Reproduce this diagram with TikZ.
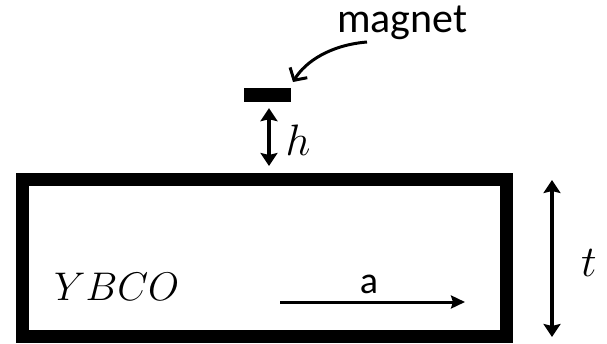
\RequirePackage{fix-cm}
\documentclass[tikz,border=0pt]{standalone}
\usepackage{fontspec}
\newfontfamily\calib{Carlito}
\usetikzlibrary{arrows.meta,calc}
\begin{document}
\begin{tikzpicture}[x=1pt,y=-1pt,
  dimarrow/.style={line width=3.5pt,{Stealth[length=13pt,width=17pt,inset=2pt]}-{Stealth[length=13pt,width=17pt,inset=2pt]}},
  lbl/.style={inner sep=0pt,anchor=center}]
\useasboundingbox (0,0) rectangle (607,343);
% slab
\node[draw,line width=13pt,minimum width=484pt,minimum height=157pt,inner sep=0pt] (slab) at (264.5,258) {};
% magnet
\node[fill=black,minimum width=47pt,minimum height=14pt,inner sep=0pt] (magnet) at (267.5,95) {};
% labels
\node[lbl,font=\calib\fontsize{42}{42}\selectfont,anchor=base west] (mlabel) at (337,32) {magnet};
\node[lbl,font=\fontsize{44}{44}\selectfont] (hlabel) at (298,140) {$h$};
\node[lbl,font=\fontsize{44}{44}\selectfont] (tlabel) at (589,263) {$t$};
\node[lbl,font=\fontsize{40}{40}\selectfont,anchor=base west] (ybco) at (54,300) {$YBCO$};
\node[lbl,font=\calib\fontsize{38}{38}\selectfont] (alabel) at (369,284) {a};
% coordinates
\coordinate (hT) at ($(magnet.south)+(1.5,6)$);
\coordinate (hB) at ($(magnet.south |- slab.north)+(1.5,-7)$);
\coordinate (cs) at (367,42);
\coordinate (ce) at (293,82);
\coordinate (tT) at (552,180);
\coordinate (tB) at (552,337);
\coordinate (aS) at (280,302);
\coordinate (aE) at (465,302);
% h arrow
\draw[dimarrow] (hT) -- (hB);
% t arrow
\draw[dimarrow] (tT) -- (tB);
% a arrow
\draw[line width=3pt,-{Stealth[length=14pt,width=13pt,inset=2pt]}] (aS) -- (aE);
% curved pointer
\draw[line width=3pt,-{Straight Barb[length=9pt,width=20pt]}] (cs) .. controls (330,45) and (305,62) .. (ce);
\end{tikzpicture}
\end{document}
